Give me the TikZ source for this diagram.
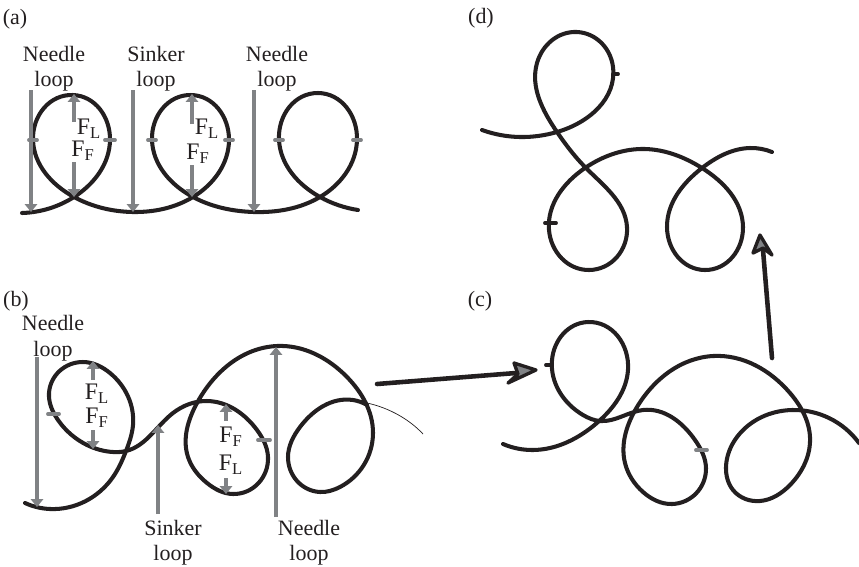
\documentclass[tikz,border=0pt]{standalone}
\usepackage{fontspec}
\setmainfont{Liberation Serif}
\usetikzlibrary{arrows.meta,hobby}
\definecolor{yarnblack}{HTML}{231F20}
\definecolor{forcegray}{HTML}{808285}
\tikzset{
  yarn/.style={draw=yarnblack,line width=2.3pt,line cap=round,line join=round,use Hobby shortcut},
  force/.style={draw=forcegray,line width=2.4pt,-{Triangle[length=4.5pt,width=7pt]}},
  tick/.style={draw=forcegray,line width=2.2pt,line cap=round},
  blacktick/.style={draw=yarnblack,line width=2.2pt,line cap=round},
  turn/.style={draw=yarnblack,line width=2.6pt,line cap=round},
  turnhead/.style={draw=yarnblack,fill=forcegray,line width=1.9pt,line join=round},
  lbl/.style={font=\fontsize{12.5}{14}\selectfont,text=yarnblack,inner sep=0pt},
  flbl/.style={font=\fontsize{13.5}{15}\selectfont,text=yarnblack,inner sep=0pt}
}
\begin{document}
\begin{tikzpicture}[x=0.02cm,y=-0.02cm]
\useasboundingbox (0,0) rectangle (859,566);

% Draw panel (a)
\draw[yarn] (22,213) .. (74,197) .. (110,140) .. (73,95) .. (33,140) .. (74,197) .. (133,212) .. (193,197) .. (229,140) .. (191,95) .. (152,140) .. (193,197) .. (254,212) .. (320,197) .. (357,140) .. (318,93) .. (279,140) .. (320,197) .. (358,210);
\foreach \x/\w in {33/4,110/5,152/4,229/4,279/4,357/4}
  \draw[tick] (\x-\w,140) -- (\x+\w,140);
\foreach \x in {31,133,254}
  \draw[force] (\x,90) -- (\x,212);
\foreach \x/\ya/\yb in {74/122/94,74/162/197,192/124/94,192/165/197}
  \draw[force] (\x,\ya) -- (\x,\yb);

% Draw panel (b)
\draw[yarn] (25,503) .. (50,509) .. (113,477) .. (126,451) .. (133,425) .. (110,373) .. (83,362) .. (49,393) .. (58,420) .. (87,445) .. (113,452) .. (126,451) .. (173,413) .. (207,401) .. (257,430) .. (268,457) .. (233,494) .. (207,483) .. (188,457) .. (197,403) .. (277,346) .. (347,377) .. (373,433) .. (340,487) .. (320,492) .. (288,457) .. (300,427) .. (353,400) .. (367,405);
\draw[yarnblack,line width=0.4pt] (367,403) .. controls (390,408) and (410,420) .. (423,434);
\draw[tick] (48,414) -- (59,414);
\draw[tick] (258,440) -- (270,440);
\draw[force] (37,357) -- (37,507);
\draw[force] (158,514) -- (158,425);
\draw[force] (276,517) -- (276,347);
\foreach \x/\ya/\yb in {93/380/361,93/430/449,226/421/404,226/478/494}
  \draw[force] (\x,\ya) -- (\x,\yb);

% Draw panel (c)
\draw[yarn] (503,444) .. (533,450) .. (598,422) .. (628,370) .. (588,322) .. (552,360) .. (583,415) .. (600,421) .. (643,410) .. (695,440) .. (706,468) .. (672,504) .. (643,492) .. (625,463) .. (637,407) .. (713,356) .. (790,393) .. (810,437) .. (790,485) .. (760,501) .. (733,490) .. (726,467) .. (737,437) .. (792,410) .. (859,443);
\draw[blacktick] (546,365) -- (552,365);
\draw[tick] (696,450) -- (707,450);

% Draw panel (d)
\draw[yarn] (482,130) .. (520,137) .. (557,132) .. (613,67) .. (577,32) .. (537,63) .. (557,132) .. (585,167) .. (627,227) .. (589,270) .. (549,230) .. (585,168) .. (645,149) .. (702,168) .. (743,227) .. (705,270) .. (667,227) .. (702,168) .. (750,148) .. (772,152);
\draw[blacktick] (613,74) -- (618,74);
\draw[blacktick] (545,223) -- (556,223);

% Arrows between the panels
\draw[turn] (377,384) -- (516,373);
\draw[turnhead] (536,370) -- (514,363) -- (518,374) -- (508,383) -- cycle;
\draw[turn] (772,358) -- (763,250);
\draw[turnhead] (760,235) -- (772,255) -- (763,248) -- (753,253) -- cycle;

% Panel letters
\node[lbl] (pa) at (15,19) {(a)};
\node[lbl] (pb) at (16,301) {(b)};
\node[lbl] (pc) at (480,301) {(c)};
\node[lbl] (pd) at (481,18) {(d)};

% Loop labels
\node[lbl] (needleA) at (54,54) {Needle};
\node[lbl] (loopA) at (54,81) {loop};
\node[lbl] (sinkerA) at (156,54) {Sinker};
\node[lbl] (loopB) at (156,81) {loop};
\node[lbl] (needleB) at (277,54) {Needle};
\node[lbl] (loopC) at (277,81) {loop};
\node[lbl] (needleC) at (53,323) {Needle};
\node[lbl] (loopD) at (53,351) {loop};
\node[lbl] (sinkerB) at (173,528) {Sinker};
\node[lbl] (loopE) at (173,555) {loop};
\node[lbl] (needleD) at (309,528) {Needle};
\node[lbl] (loopF) at (309,555) {loop};

% Force labels
\node[flbl] (flA) at (89,129) {F\textsubscript{L}};
\node[flbl] (ffA) at (83,151) {F\textsubscript{F}};
\node[flbl] (flB) at (207,129) {F\textsubscript{L}};
\node[flbl] (ffB) at (198,154) {F\textsubscript{F}};
\node[flbl] (flC) at (97,394) {F\textsubscript{L}};
\node[flbl] (ffC) at (97,418) {F\textsubscript{F}};
\node[flbl] (ffD) at (231,437) {F\textsubscript{F}};
\node[flbl] (flD) at (231,465) {F\textsubscript{L}};
\end{tikzpicture}
\end{document}
